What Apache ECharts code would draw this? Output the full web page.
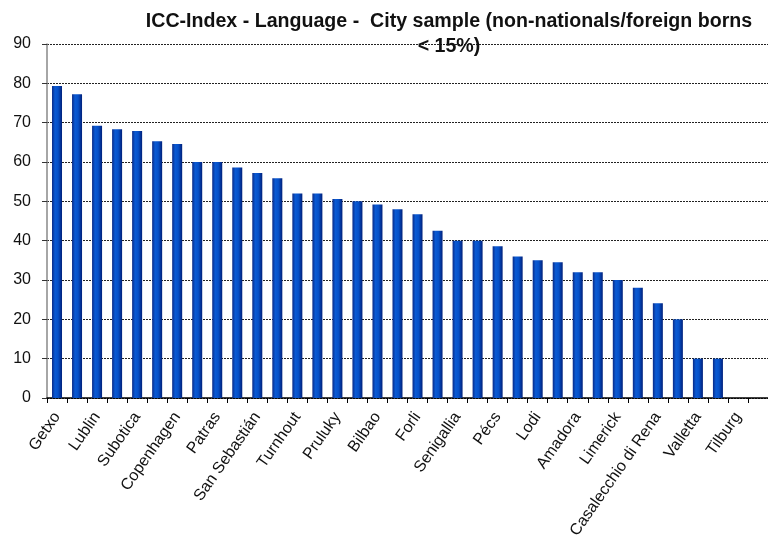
<!DOCTYPE html>
<html>
<head>
<meta charset="utf-8">
<script src="https://cdn.jsdelivr.net/npm/echarts@6/dist/echarts.min.js"></script>
<style>
  html, body { margin: 0; padding: 0; background: #fff; }
  #chart { width: 768px; height: 544px; }
</style>
</head>
<body>
<div id="chart"></div>
<script>
// Cities in the sample, ordered by index score (every other name is printed on the axis)
const cities = [
  'Getxo', 'Izhevsk', 'Lublin', 'Melitopol', 'Subotica', 'Sabadell',
  'Copenhagen', 'Rijeka', 'Patras', 'Ioannina', 'San Sebastián', 'Cartagena',
  'Turnhout', 'Tenerife', 'Pruluky', 'Jerez de la Frontera', 'Bilbao', 'Logroño',
  'Forli', 'Novi Sad', 'Senigallia', 'Savonlinna', 'Pécs', 'Lisbon',
  'Lodi', 'Limassol', 'Amadora', 'Bergen', 'Limerick', 'Maribor',
  'Casalecchio di Rena', 'Arezzo', 'Valletta', 'Nicosia', 'Tilburg', 'Dublin'
];

// ICC-Index (Language) score per city
const scores = [
  79.3, 77.2, 69.2, 68.3, 67.9, 65.3,
  64.6, 60, 60, 58.6, 57.2, 55.9,
  52, 52, 50.6, 50, 49.2, 48,
  46.7, 42.5, 40, 40, 38.6, 36,
  35, 34.5, 32, 32, 30, 28,
  24.1, 20, 10, 10, 0, null
];

// Value axis ticks
const yTicks = [0, 10, 20, 30, 40, 50, 60, 70, 80, 90];

const chartTitle = 'ICC-Index - Language -  City sample (non-nationals/foreign borns\n< 15%)';

const font = '"Liberation Sans", Arial, sans-serif';

const chart = echarts.init(document.getElementById('chart'), null, { renderer: 'canvas' });

// Cylinder-like shading across each bar
const barFill = new echarts.graphic.LinearGradient(0, 0, 1, 0, [
  { offset: 0, color: '#0a2a86' },
  { offset: 0.3, color: '#0a5ad4' },
  { offset: 0.6, color: '#0650c8' },
  { offset: 1, color: '#00207a' }
]);

chart.setOption({
  animation: false,
  backgroundColor: '#ffffff',
  title: {
    text: chartTitle,
    left: 444,
    top: 4,
    textAlign: 'center',
    textStyle: {
      fontFamily: font,
      fontSize: 19.6,
      fontWeight: 'bold',
      color: '#111',
      lineHeight: 25
    }
  },
  grid: {
    left: 47,
    top: 44,
    width: 727,
    height: 354,
    containLabel: false
  },
  xAxis: {
    type: 'category',
    data: cities,
    boundaryGap: true,
    axisLine: { show: true, lineStyle: { color: '#000', width: 1.5 } },
    axisTick: { show: true, interval: 0, length: 5, lineStyle: { color: '#000' } },
    axisLabel: {
      interval: 1,
      rotate: 55,
      margin: 16,
      fontFamily: font,
      fontSize: 16,
      color: '#111'
    },
    splitLine: { show: false }
  },
  yAxis: {
    type: 'value',
    min: yTicks[0],
    max: yTicks[yTicks.length - 1],
    interval: yTicks[1] - yTicks[0],
    axisLine: { show: true, lineStyle: { color: '#888', width: 1.5 } },
    axisTick: { show: true, length: 5, lineStyle: { color: '#333' } },
    axisLabel: {
      margin: 16,
      fontFamily: font,
      fontSize: 16,
      color: '#111'
    },
    splitLine: { show: true, lineStyle: { color: '#222', width: 1, type: [2, 1] } }
  },
  series: [{
    type: 'bar',
    data: scores,
    barWidth: 10,
    itemStyle: { color: barFill }
  }]
});
</script>
</body>
</html>
